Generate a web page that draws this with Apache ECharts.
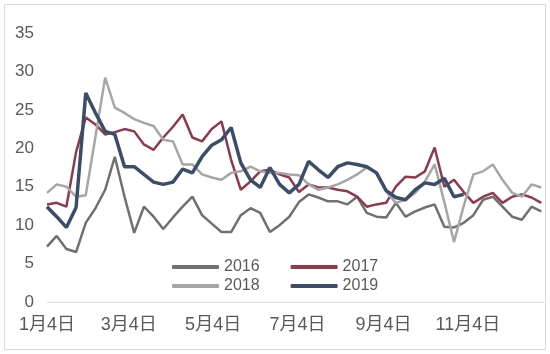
<!DOCTYPE html>
<html>
<head>
<meta charset="utf-8">
<script src="https://cdn.jsdelivr.net/npm/echarts@6/dist/echarts.min.js"></script>
<style>
  html, body { margin: 0; padding: 0; background: #fff; }
  #chart { width: 550px; height: 354px; }
</style>
</head>
<body>
<div id="chart"></div>
<script>
  // 周度日期（按2019年排布，x轴为距1月4日的天数）
  var weeks = [
    '01-04', '01-11', '01-18', '01-25', '02-01', '02-08', '02-15', '02-22',
    '03-01', '03-08', '03-15', '03-22', '03-29', '04-05', '04-12', '04-19', '04-26',
    '05-03', '05-10', '05-17', '05-24', '05-31', '06-07', '06-14', '06-21', '06-28',
    '07-05', '07-12', '07-19', '07-26', '08-02', '08-09', '08-16', '08-23', '08-30',
    '09-06', '09-13', '09-20', '09-27', '10-04', '10-11', '10-18', '10-25',
    '11-01', '11-08', '11-15', '11-22', '11-29', '12-06', '12-13', '12-20', '12-27'
  ];
  // x轴标签位置
  var tickDays = ['01-04', '03-04', '05-04', '07-04', '09-04', '11-04'];

  var v2016 = [7.2, 8.6, 6.9, 6.5, 10.3, 12.2, 14.6, 18.9, 13.7, 9.0, 12.4, 11.1, 9.5,
    11.0, 12.4, 13.7, 11.3, 10.2, 9.1, 9.1, 11.3, 12.2, 11.6, 9.1, 10.0, 11.1,
    13.0, 14.0, 13.6, 13.1, 13.1, 12.7, 13.7, 11.6, 11.1, 11.0, 12.9, 11.1, 11.8,
    12.3, 12.7, 9.8, 9.7, 10.3, 11.3, 13.3, 13.7, 12.4, 11.1, 10.7, 12.4, 11.8];
  var v2017 = [12.7, 12.9, 12.4, 19.5, 24.0, 23.1, 21.8, 22.1, 22.5, 22.2, 20.5, 19.8, 21.4,
    22.8, 24.4, 21.4, 20.9, 22.5, 23.5, 18.5, 14.6, 15.7, 17.0, 17.2, 16.6, 16.2,
    14.3, 15.3, 14.9, 14.9, 14.6, 14.4, 13.7, 12.4, 12.7, 12.9, 15.0, 16.3, 16.2,
    17.0, 20.1, 15.0, 15.9, 14.3, 12.9, 13.7, 14.2, 12.9, 13.7, 14.0, 13.6, 12.9];
  var v2018 = [14.2, 15.3, 15.0, 13.7, 13.9, 21.5, 29.2, 25.3, 24.6, 23.8, 23.3, 22.9, 21.1,
    20.9, 17.9, 17.9, 16.6, 16.2, 15.9, 16.8, 17.0, 17.6, 17.0, 16.8, 16.8, 16.6,
    16.5, 15.3, 14.6, 14.9, 15.3, 15.9, 16.6, 17.5, 16.8, 14.4, 12.9, 13.3, 14.2,
    15.7, 17.9, 13.0, 7.8, 12.5, 16.6, 17.0, 17.9, 15.9, 14.2, 13.7, 15.3, 14.9];
  var v2019 = [12.4, 11.1, 9.7, 12.3, 27.2, 24.6, 22.2, 21.8, 17.6, 17.6, 16.6, 15.6, 15.3,
    15.6, 17.3, 16.8, 18.9, 20.4, 21.1, 22.7, 18.1, 15.9, 14.9, 17.5, 15.3, 14.2,
    15.3, 18.3, 17.2, 16.2, 17.6, 18.1, 17.9, 17.6, 16.8, 14.5, 13.6, 13.3, 14.6,
    15.5, 15.3, 16.1, 13.7, 14.0];

  var DAY = 86400000;
  var base = new Date(2019, 0, 4).getTime();
  function toDay (md) {
    var p = md.split('-');
    return Math.round((new Date(2019, +p[0] - 1, +p[1]).getTime() - base) / DAY);
  }
  function pairs (vals) {
    return vals.map(function (v, i) { return [toDay(weeks[i]), v]; });
  }

  var chart = echarts.init(document.getElementById('chart'));
  var lbl = '#595959';
  var font = "'Liberation Sans', 'Noto Sans CJK SC', sans-serif";

  chart.setOption({
    animation: false,
    grid: { left: 47, right: 6, top: 33, bottom: 52 },
    graphic: [{
      type: 'rect',
      shape: { x: 4.5, y: 4.5, width: 541, height: 345 },
      style: { fill: 'none', stroke: '#d9d9d9', lineWidth: 1 },
      silent: true
    }],
    legend: [
      {
        data: ['2016', '2017'], left: 172, top: 259, padding: 0,
        icon: 'roundRect', itemWidth: 47, itemHeight: 4, itemGap: 31,
        textStyle: { color: lbl, fontSize: 16, fontFamily: font }
      },
      {
        data: ['2018', '2019'], left: 172, top: 278, padding: 0,
        icon: 'roundRect', itemWidth: 47, itemHeight: 4, itemGap: 31,
        textStyle: { color: lbl, fontSize: 16, fontFamily: font }
      }
    ],
    xAxis: {
      type: 'value',
      min: 0,
      max: toDay('12-29'),
      axisLine: { lineStyle: { color: '#d9d9d9', width: 1 } },
      axisTick: { show: false },
      splitLine: { show: false },
      axisLabel: {
        customValues: tickDays.map(toDay),
        color: lbl, fontSize: 18, fontFamily: font, margin: 14,
        formatter: function (val) {
          var d = new Date(base + val * DAY);
          return (d.getMonth() + 1) + '月' + d.getDate() + '日';
        }
      }
    },
    yAxis: {
      type: 'value',
      min: 0, max: 35, interval: 5,
      axisLine: { show: false },
      axisTick: { show: false },
      splitLine: { show: false },
      axisLabel: { color: lbl, fontSize: 17, fontFamily: font, margin: 13 }
    },
    series: [
      { name: '2016', type: 'line', data: pairs(v2016), showSymbol: false,
        itemStyle: { color: '#707070' }, lineStyle: { width: 2.5, color: '#707070' } },
      { name: '2017', type: 'line', data: pairs(v2017), showSymbol: false,
        itemStyle: { color: '#8e3a4b' }, lineStyle: { width: 2.5, color: '#8e3a4b' } },
      { name: '2018', type: 'line', data: pairs(v2018), showSymbol: false,
        itemStyle: { color: '#a6a6a6' }, lineStyle: { width: 2.5, color: '#a6a6a6' } },
      { name: '2019', type: 'line', data: pairs(v2019), showSymbol: false,
        itemStyle: { color: '#3c4d6a' }, lineStyle: { width: 3.5, color: '#3c4d6a' } }
    ]
  });
</script>
</body>
</html>
